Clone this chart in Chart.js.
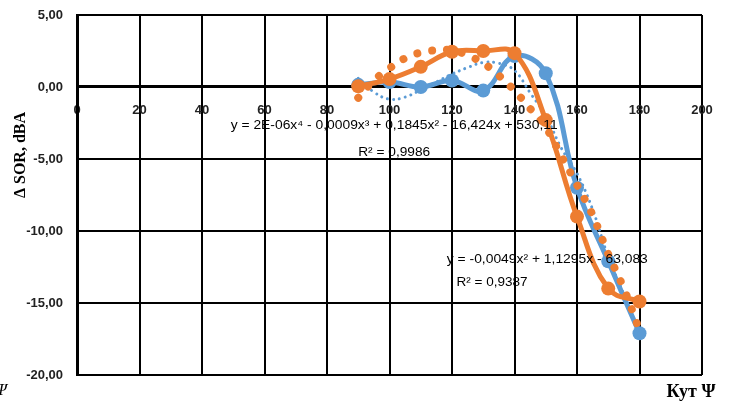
<!DOCTYPE html>
<html>
<head>
<meta charset="utf-8">
<script src="https://cdn.jsdelivr.net/npm/chart.js@4"></script>
<style>
  html, body { margin: 0; padding: 0; background: #fff; }
  canvas { display: block; }
</style>
</head>
<body>
<canvas id="myChart" width="731" height="408"></canvas>
<script>
// measured points (angle, ΔSOR)
const angles = [90, 100, 110, 120, 130, 140, 150, 160, 170, 180];
const blueMeasured = [0.15, 0.35, 0.0, 0.45, -0.25, 2.15, 0.95, -7.0, -12.1, -17.1];
const orangeMeasured = [0.05, 0.55, 1.4, 2.45, 2.5, 2.35, -2.3, -9.0, -14.0, -14.9];

// trend lines
const trendAngles = [90, 95, 100, 105, 110, 115, 120, 125, 130, 135, 140, 145, 150, 155, 160, 165, 170, 175, 180];
const blueTrend = [0.6, -0.35, -0.85, -0.7, -0.2, 0.35, 0.9, 1.35, 1.7, 1.65, 1.15, -0.4, -2.0, -4.25, -6.0, -8.5, -11.8, -14.4, -17.2];
const orangeTrend = [-0.75, 0.45, 1.3, 2.0, 2.4, 2.55, 2.55, 2.2, 1.65, 0.8, -0.25, -1.5, -2.8, -4.8, -6.8, -8.9, -11.6, -14.0, -16.9];

const xTicks = [0, 20, 40, 60, 80, 100, 120, 140, 160, 180, 200];
const yTicks = [5, 0, -5, -10, -15, -20];

const eq1 = 'y = 2E-06x\u2074 - 0,0009x\u00B3 + 0,1845x\u00B2 - 16,424x + 530,11';
const r1 = 'R\u00B2 = 0,9986';
const eq2 = 'y = -0,0049x\u00B2 + 1,1295x - 63,083';
const r2 = 'R\u00B2 = 0,9387';

const blue = '#5B9BD5';
const orange = '#ED7D31';

function pts(xs, ys) {
  return xs.map((x, i) => ({x: x, y: ys[i]}));
}

function drawText(ctx, txt, cx, cy, font, w) {
  ctx.save();
  ctx.font = font;
  ctx.textAlign = 'center';
  ctx.textBaseline = 'middle';
  ctx.fillStyle = '#000';
  let m = ctx.measureText(txt).width;
  ctx.translate(cx, cy);
  if (w) ctx.scale(w / m, 1);
  ctx.fillText(txt, 0, 0);
  ctx.restore();
}

const textPlugin = {
  id: 'texts',
  afterDraw(chart) {
    const ctx = chart.ctx;
    const xs = chart.scales.x, ys = chart.scales.y;
    const eqFont = '13px "Liberation Sans"';
    drawText(ctx, eq1, xs.getPixelForValue(101.5), ys.getPixelForValue(-2.65), eqFont, 327);
    drawText(ctx, r1, xs.getPixelForValue(101.5), ys.getPixelForValue(-4.55), eqFont, 72);
    drawText(ctx, eq2, xs.getPixelForValue(150.5), ys.getPixelForValue(-11.95), eqFont, 201);
    drawText(ctx, r2, xs.getPixelForValue(132.8), ys.getPixelForValue(-13.6), eqFont, 71);
    // axis titles
    ctx.save();
    ctx.translate(21, 155);
    ctx.rotate(-Math.PI / 2);
    ctx.font = 'bold 16px "Liberation Serif"';
    ctx.textAlign = 'center';
    ctx.textBaseline = 'middle';
    ctx.fillStyle = '#000';
    ctx.fillText('\u0394 SOR, dBA', 0, 0);
    ctx.restore();
    drawText(ctx, '\u041A\u0443\u0442 \u03A8', 691, 392, 'bold 18px "Liberation Serif"');
    drawText(ctx, '\u03A8', 1, 391, 'italic 17px "Liberation Serif"');
  }
};

const ctx = document.getElementById('myChart');
new Chart(ctx, {
  type: 'scatter',
  data: {
    datasets: [
      {
        data: pts(trendAngles, blueTrend),
        showLine: true, tension: 0.4,
        borderColor: blue, borderWidth: 3,
        borderDash: [0.01, 6], borderCapStyle: 'round',
        pointRadius: 0, order: 3
      },
      {
        data: pts(angles, blueMeasured),
        showLine: true, tension: 0.4,
        borderColor: blue, backgroundColor: blue, borderWidth: 5,
        pointRadius: 7, pointBorderWidth: 0, order: 4
      },
      {
        data: pts(angles, orangeMeasured),
        showLine: true, tension: 0.4,
        borderColor: orange, backgroundColor: orange, borderWidth: 5,
        pointRadius: 7, pointBorderWidth: 0, order: 2
      },
      {
        data: pts(trendAngles, orangeTrend),
        showLine: true, tension: 0.4,
        borderColor: orange, borderWidth: 8,
        borderDash: [0.01, 15], borderCapStyle: 'round',
        pointRadius: 0, order: 1
      }
    ]
  },
  options: {
    responsive: false,
    animation: false,
    layout: { padding: { left: 0, top: 15, right: 29, bottom: 33 } },
    plugins: { legend: { display: false }, tooltip: { enabled: false } },
    scales: {
      x: {
        type: 'linear',
        position: { y: 0 },
        min: 0, max: 200,
        afterFit(scale) {
          scale.height = 0;
          scale.paddingTop = 0; scale.paddingBottom = 0;
          scale.paddingLeft = 0; scale.paddingRight = 0;
        },
        afterBuildTicks(scale) { scale.ticks = xTicks.map(v => ({value: v})); },
        grid: { color: '#000', lineWidth: 2, drawTicks: false },
        border: { color: '#000', width: 3 },
        ticks: {
          padding: 16,
          color: '#222',
          font: { family: 'Liberation Sans', size: 13, weight: 'bold' },
          callback: v => v
        }
      },
      y: {
        min: -20, max: 5,
        afterFit(scale) {
          scale.width = 77;
          scale.paddingTop = 0; scale.paddingBottom = 0;
        },
        afterBuildTicks(scale) { scale.ticks = yTicks.map(v => ({value: v})); },
        grid: {
          color: '#000',
          lineWidth: c => (c.tick && c.tick.value === 0 ? 3 : 2),
          drawTicks: false
        },
        border: { color: '#000', width: 3 },
        ticks: {
          padding: 14,
          color: '#222',
          font: { family: 'Liberation Sans', size: 13, weight: 'bold' },
          callback: v => v.toFixed(2).replace('.', ',')
        }
      }
    }
  },
  plugins: [textPlugin]
});
</script>
</body>
</html>
